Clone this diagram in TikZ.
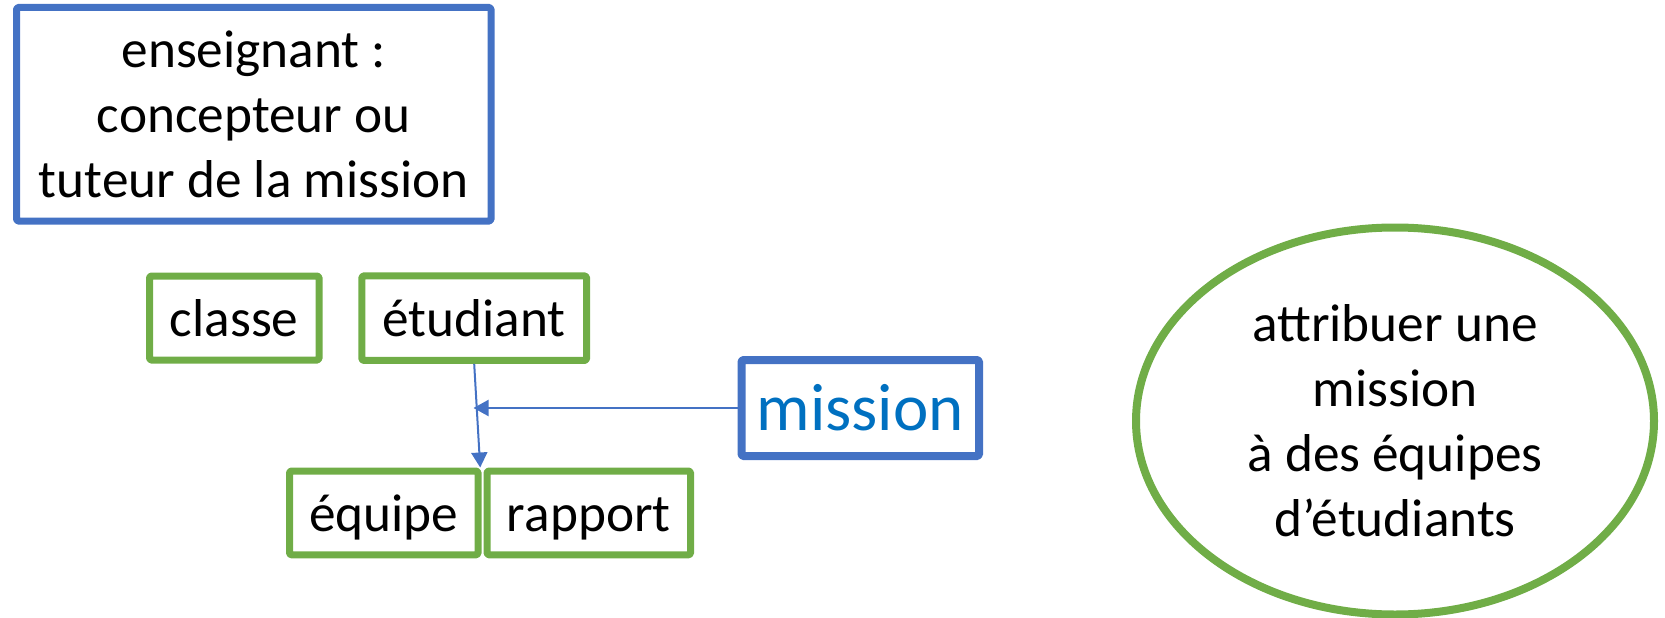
\documentclass[tikz,border=0pt]{standalone}
\usepackage{fontspec}
\setmainfont{Carlito}
\usetikzlibrary{arrows.meta,shapes.geometric}
\definecolor{vgreen}{HTML}{70AD47}
\definecolor{vblue}{HTML}{4472C4}
\definecolor{tblue}{HTML}{0070C0}
\newcommand\lstrut{\rule[-0.26em]{0pt}{1.2em}}
\begin{document}
\begin{tikzpicture}[x=1pt,y=-1pt,
  txt/.style={font=\fontsize{53.3}{65}\selectfont, align=center, inner sep=0pt},
  gbox/.style={draw=vgreen, line width=7pt, rectangle, rounded corners=1.5pt, line join=round, txt},
  bbox/.style={draw=vblue, line width=7pt, rectangle, rounded corners=1.5pt, line join=round, txt},
  arr/.style={draw=vblue, line width=2pt, -{Triangle[length=15pt,width=16pt]}}]
\useasboundingbox (0,0) rectangle (1665,618);
\node[bbox, minimum width=474.5pt, minimum height=213.5pt] (ens) at (253.75,114.25)
  {\lstrut enseignant :\\\lstrut concepteur ou\\\lstrut tuteur de la mission};
\node[gbox, minimum width=169.5pt, minimum height=84pt] (cla) at (234.25,318) {\lstrut classe};
\node[gbox, minimum width=224.7pt, minimum height=84.5pt] (etu) at (474.2,318.2) {\lstrut étudiant};
\node[gbox, minimum width=188.5pt, minimum height=83.8pt] (equ) at (383.75,512.9) {\lstrut équipe};
\node[gbox, minimum width=203.5pt, minimum height=83.8pt] (rap) at (588.75,512.9) {\lstrut rapport};
\node[bbox, line width=8pt, minimum width=237.5pt, minimum height=96pt,
  font=\fontsize{67}{82}\selectfont, text=tblue] (mis) at (860.25,408) {\lstrut mission};
\node[ellipse, draw=vgreen, line width=8pt, minimum width=518pt, minimum height=387pt, txt] (ell) at (1395,421)
  {\lstrut attribuer une\\\lstrut mission\\\lstrut à des équipes\\\lstrut d’étudiants};
\coordinate (j) at (473.5,408);
\draw[arr] (etu.south) -- ([xshift=-1.3pt]equ.north east);
\draw[arr] (mis.west) -- (j);
\end{tikzpicture}
\end{document}
